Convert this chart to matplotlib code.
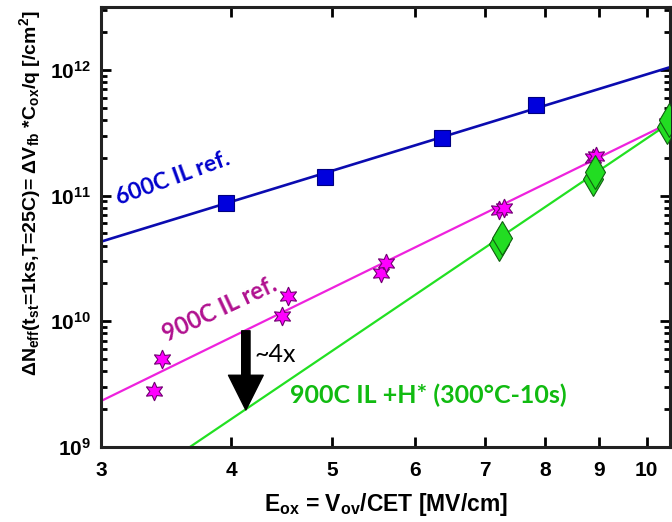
import numpy as np
import matplotlib.pyplot as plt

plt.rcParams['font.family'] = ['Liberation Sans', 'DejaVu Sans']
plt.rcParams['font.weight'] = 'bold'
plt.rcParams['mathtext.fontset'] = 'custom'
plt.rcParams['mathtext.rm'] = 'Liberation Sans:bold'
plt.rcParams['mathtext.it'] = 'Liberation Sans:bold'
plt.rcParams['mathtext.bf'] = 'Liberation Sans:bold'
plt.rcParams['mathtext.default'] = 'rm'

# 600C IL ref. (squares)
x_600 = [3.95, 4.92, 6.37, 7.83]
y_600 = [8.8e10, 1.40e11, 2.85e11, 5.3e11]
# 900C IL ref. (stars)
x_900 = [3.37, 3.43, 4.47, 4.53, 5.56, 5.63, 7.22, 7.30, 8.88, 8.95, 10.45]
y_900 = [2.8e9, 5.0e9, 1.10e10, 1.6e10, 2.4e10, 2.9e10, 7.7e10, 8.0e10, 2.0e11, 2.05e11, 3.8e11]
# 900C IL +H* (diamonds)
x_h = [7.22, 7.27, 8.88, 8.92, 10.45, 10.5]
y_h = [4.1e10, 4.6e10, 1.35e11, 1.55e11, 3.5e11, 4.0e11]

# power-law fit lines (end points)
fit_x = [3.0, 10.53]
fit_600 = [4.3e10, 1.05e12]
fit_900 = [2.32e9, 3.8e11]
fit_h_x = [3.65, 10.53]
fit_h = [1.0e9, 3.8e11]

xticks = [3, 4, 5, 6, 7, 8, 9, 10]

fig = plt.figure(figsize=(6.72, 5.22), dpi=100)
ax = fig.add_axes([101/672, 75/522, 569/672, 440/522])

ax.plot(fit_x, fit_600, color='#0b0bb0', lw=1.9, zorder=2)
ax.plot(fit_x, fit_900, color='#ee22dd', lw=1.6, zorder=2)
ax.plot(fit_h_x, fit_h, color='#22e022', lw=1.6, zorder=2)

ax.plot(x_600, y_600, 's', ms=11.5, mfc='#0000dd', mec='#000080', mew=0.8, zorder=3)
ax.plot(x_900, y_900, marker=(6, 1, 0), ls='none', ms=13.5, mfc='#ff00ff', mec='#700070', mew=0.8, zorder=3)
ax.plot(x_h, y_h, 'd', ms=17, mfc='#22dd22', mec='#106010', mew=0.8, zorder=4)

ax.set_xscale('log')
ax.set_yscale('log')
ax.set_xlim(3, 10.53)
ax.set_ylim(1e9, 10**12.5)
ax.set_xticks(xticks)
ax.set_xticklabels([str(t) for t in xticks])
ax.xaxis.set_minor_locator(plt.NullLocator())
ax.tick_params(which='both', direction='in', top=True, right=True, width=2, labelsize=15)
ax.tick_params(which='major', length=7)
ax.tick_params(axis='x', pad=10)
ax.tick_params(axis='y', pad=7)
ax.tick_params(which='minor', length=4)
for s in ax.spines.values():
    s.set_linewidth(2.2)
    s.set_color('#222222')

ax.set_xlabel('E$_{ox}$ = V$_{ov}$/CET [MV/cm]', fontsize=16.5, fontweight='bold', labelpad=8)
fig.text(30/672, 1 - 193/522,
         'ΔN$_{eff}$(t$_{st}$=1ks,T=25C)= ΔV$_{fb}$ *C$_{ox}$/q [/cm$^2$]',
         rotation=90, ha='center', va='center', fontsize=14, fontweight='bold')

lato = ['Lato', 'DejaVu Sans']
ax.text(3.52, 1.37e11, '600C IL ref.', color='#0000cc', fontsize=16.5, fontweight='bold',
        family=lato, rotation=20, ha='center', va='center')
ax.text(3.90, 1.25e10, '900C IL ref.', color='#b0108f', fontsize=17, fontweight='bold',
        family=lato, rotation=25, ha='center', va='center')
ax.text(4.55, 2.6e9, '900C IL +H* (300°C-10s)', color='#11bb11', fontsize=18, fontweight='bold',
        family=lato, ha='left', va='center')

ax.annotate('', xy=(4.13, 1.97e9), xytext=(4.13, 8.4e9),
            arrowprops=dict(facecolor='black', edgecolor='black', width=6, headwidth=25, headlength=25, shrink=0))
ax.text(4.21, 5.4e9, '~4x', fontsize=18, fontweight='normal', family=lato,
        ha='left', va='center')

fig.savefig('out.png', dpi=100)
